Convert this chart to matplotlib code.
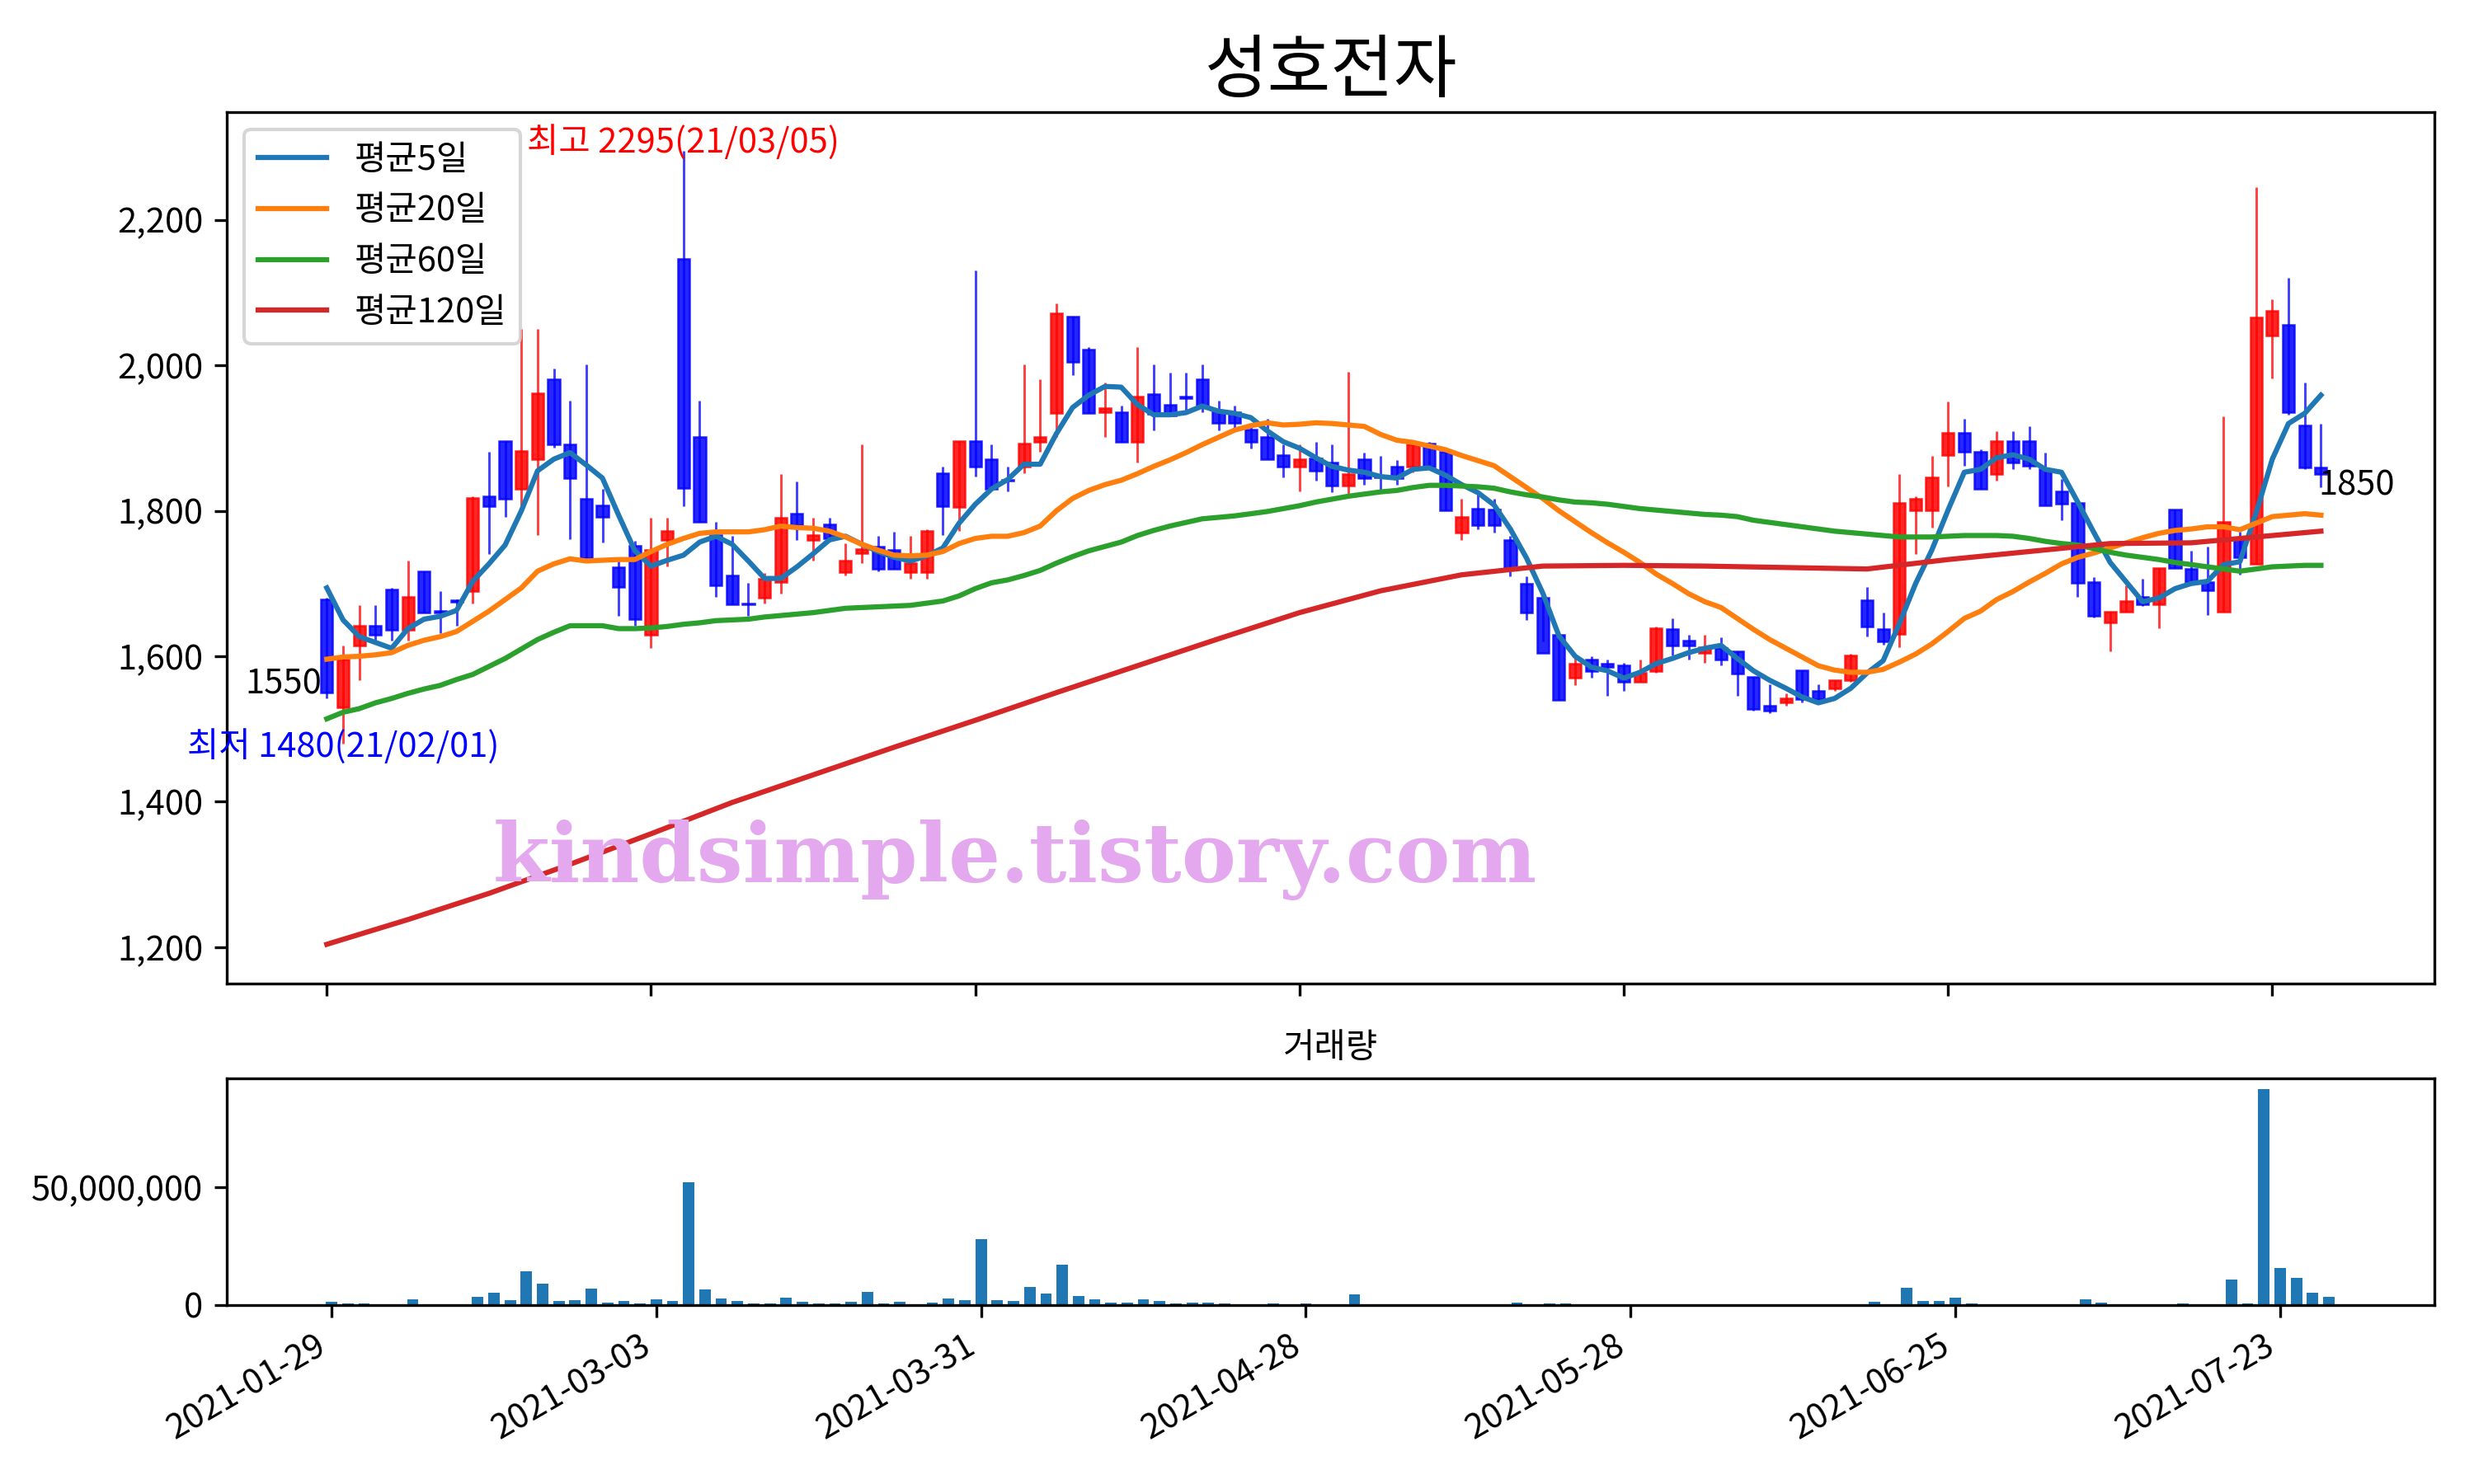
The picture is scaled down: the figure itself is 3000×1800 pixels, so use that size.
import numpy as np
import matplotlib
matplotlib.use("Agg")
import matplotlib.pyplot as plt
from matplotlib.ticker import FuncFormatter

# 일봉 데이터 (2021-01-29 ~ 124 거래일)
open_ = [1678, 1530, 1615, 1642, 1692, 1636, 1717, 1662, 1677, 1690,
         1820, 1896, 1830, 1871, 1981, 1891, 1817, 1807, 1722, 1752,
         1630, 1760, 2146, 1902, 1767, 1711, 1673, 1681, 1702, 1796,
         1760, 1781, 1716, 1742, 1751, 1746, 1716, 1716, 1852, 1805,
         1896, 1871, 1843, 1861, 1895, 1934, 2067, 2022, 1935, 1936,
         1895, 1961, 1946, 1957, 1981, 1937, 1936, 1912, 1902, 1877,
         1861, 1872, 1866, 1835, 1871, 1848, 1861, 1861, 1893, 1881,
         1770, 1803, 1802, 1760, 1700, 1680, 1630, 1570, 1595, 1590,
         1588, 1565, 1580, 1637, 1622, 1605, 1611, 1607, 1572, 1532,
         1536, 1581, 1552, 1556, 1567, 1677, 1637, 1631, 1801, 1801,
         1877, 1907, 1881, 1851, 1896, 1896, 1857, 1827, 1811, 1702,
         1646, 1661, 1682, 1671, 1802, 1720, 1702, 1661, 1761, 1727,
         2041, 2056, 1917, 1860]
high = [1680, 1615, 1670, 1670, 1694, 1731, 1717, 1690, 1678, 1820,
        1881, 1896, 2050, 2050, 1996, 1951, 2001, 1830, 1731, 1759,
        1791, 1790, 2295, 1951, 1785, 1766, 1701, 1715, 1851, 1840,
        1790, 1790, 1755, 1891, 1766, 1771, 1766, 1775, 1861, 1896,
        2130, 1891, 1861, 2001, 1981, 2085, 2067, 2025, 1976, 1945,
        2025, 2001, 1990, 1990, 2001, 1951, 1945, 1920, 1926, 1891,
        1891, 1895, 1891, 1991, 1880, 1876, 1870, 1891, 1895, 1881,
        1816, 1823, 1816, 1765, 1710, 1690, 1632, 1600, 1600, 1595,
        1591, 1595, 1641, 1652, 1630, 1630, 1626, 1607, 1572, 1561,
        1549, 1581, 1561, 1567, 1603, 1695, 1660, 1851, 1820, 1876,
        1950, 1926, 1884, 1910, 1910, 1916, 1880, 1844, 1811, 1709,
        1661, 1698, 1706, 1721, 1802, 1745, 1751, 1930, 1771, 2245,
        2091, 2120, 1976, 1920]
low = [1542, 1480, 1567, 1620, 1621, 1621, 1660, 1632, 1642, 1672,
       1741, 1792, 1804, 1767, 1887, 1761, 1735, 1757, 1656, 1642,
       1611, 1723, 1806, 1785, 1682, 1671, 1656, 1672, 1686, 1760,
       1731, 1758, 1711, 1728, 1717, 1720, 1707, 1707, 1767, 1772,
       1847, 1830, 1827, 1852, 1881, 1902, 1986, 1934, 1902, 1895,
       1866, 1911, 1931, 1937, 1936, 1911, 1914, 1886, 1871, 1846,
       1827, 1842, 1826, 1821, 1836, 1826, 1836, 1853, 1861, 1801,
       1760, 1775, 1770, 1710, 1650, 1620, 1540, 1560, 1570, 1546,
       1552, 1565, 1577, 1601, 1596, 1591, 1587, 1546, 1525, 1522,
       1532, 1537, 1535, 1552, 1565, 1627, 1616, 1612, 1741, 1777,
       1833, 1862, 1830, 1842, 1857, 1857, 1808, 1787, 1682, 1653,
       1607, 1661, 1669, 1639, 1721, 1701, 1657, 1661, 1712, 1727,
       1982, 1932, 1857, 1832]
close = [1550, 1595, 1642, 1630, 1636, 1682, 1660, 1660, 1675, 1818,
         1806, 1816, 1882, 1962, 1891, 1845, 1735, 1792, 1695, 1651,
         1746, 1772, 1831, 1785, 1697, 1671, 1671, 1707, 1791, 1780,
         1767, 1762, 1732, 1747, 1720, 1720, 1728, 1772, 1806, 1896,
         1861, 1830, 1841, 1892, 1902, 2072, 2005, 1934, 1941, 1895,
         1957, 1933, 1931, 1955, 1944, 1921, 1921, 1895, 1871, 1861,
         1871, 1855, 1835, 1851, 1845, 1846, 1845, 1891, 1861, 1801,
         1792, 1780, 1780, 1720, 1660, 1605, 1540, 1590, 1580, 1585,
         1565, 1577, 1638, 1615, 1615, 1612, 1595, 1576, 1527, 1525,
         1542, 1541, 1541, 1567, 1601, 1641, 1620, 1811, 1817, 1846,
         1907, 1881, 1830, 1896, 1866, 1862, 1808, 1810, 1701, 1655,
         1661, 1676, 1671, 1721, 1721, 1702, 1691, 1785, 1736, 2066,
         2075, 1935, 1860, 1850]
# 거래량 (백만주)
volume = [1.4, 0.7, 0.7, 0.35, 0.35, 2.5, 0.35, 0.35, 0.35, 3.5,
          5.3, 2.1, 14.5, 9.2, 1.8, 2.1, 7.1, 1.1, 1.8, 0.7,
          2.5, 1.8, 52.1, 6.7, 2.8, 1.8, 0.7, 0.7, 3.2, 1.4,
          0.7, 0.7, 1.4, 5.7, 0.7, 1.4, 0.35, 1.1, 2.8, 2.1,
          28.0, 2.1, 1.8, 7.8, 5.0, 17.0, 3.9, 2.5, 1.1, 1.1,
          2.5, 1.8, 0.7, 1.1, 1.1, 0.7, 0.35, 0.35, 0.7, 0.35,
          0.7, 0.1, 0.1, 4.6, 0.1, 0.1, 0.1, 0.1, 0.1, 0.35,
          0.1, 0.1, 0.1, 1.1, 0.35, 0.7, 0.7, 0.1, 0.1, 0.1,
          0.1, 0.1, 0.35, 0.1, 0.1, 0.1, 0.1, 0.35, 0.35, 0.1,
          0.1, 0.1, 0.1, 0.1, 0.35, 1.4, 0.1, 7.4, 1.8, 1.8,
          3.2, 0.7, 0.35, 0.35, 0.35, 0.35, 0.35, 0.1, 2.5, 1.1,
          0.35, 0.1, 0.1, 0.35, 0.7, 0.1, 0.1, 11.0, 0.7, 92.0,
          15.6, 11.7, 5.3, 3.5]

# 이동평균
ma5 = [1694, 1650, 1627, 1619, 1611, 1638, 1651, 1655, 1663, 1703,
       1727, 1753, 1800, 1855, 1871, 1880, 1863, 1845, 1794, 1745,
       1724, 1732, 1739, 1757, 1765, 1754, 1731, 1707, 1707, 1723,
       1741, 1760, 1765, 1754, 1744, 1736, 1731, 1738, 1749, 1783,
       1809, 1830, 1843, 1864, 1864, 1906, 1942, 1959, 1971, 1970,
       1946, 1932, 1932, 1935, 1944, 1937, 1934, 1928, 1910, 1895,
       1886, 1873, 1861, 1856, 1853, 1847, 1845, 1857, 1859, 1849,
       1836, 1825, 1808, 1775, 1735, 1687, 1628, 1600, 1585, 1580,
       1570, 1578, 1590, 1597, 1605, 1611, 1615, 1597, 1580, 1567,
       1556, 1544, 1536, 1542, 1556, 1577, 1594, 1645, 1700, 1746,
       1801, 1853, 1857, 1873, 1877, 1871, 1857, 1853, 1812, 1770,
       1729, 1702, 1675, 1680, 1693, 1700, 1703, 1726, 1730, 1797,
       1871, 1920, 1934, 1959]
ma20 = [1596, 1599, 1600, 1602, 1605, 1615, 1622, 1627, 1634, 1648,
        1662, 1678, 1694, 1717, 1727, 1734, 1731, 1732, 1733, 1733,
        1744, 1754, 1762, 1769, 1771, 1771, 1771, 1774, 1779, 1777,
        1776, 1772, 1764, 1754, 1746, 1739, 1738, 1739, 1744, 1755,
        1762, 1765, 1765, 1770, 1779, 1800, 1817, 1828, 1836, 1842,
        1851, 1861, 1870, 1880, 1891, 1901, 1911, 1917, 1921, 1918,
        1919, 1921, 1920, 1918, 1916, 1905, 1897, 1894, 1889, 1884,
        1876, 1869, 1862, 1847, 1832, 1817, 1800, 1785, 1770, 1756,
        1743, 1729, 1713, 1700, 1686, 1675, 1667, 1652, 1637, 1623,
        1611, 1599, 1587, 1581, 1578, 1578, 1582, 1592, 1603, 1617,
        1634, 1652, 1662, 1678, 1689, 1702, 1714, 1727, 1736, 1742,
        1749, 1756, 1763, 1769, 1773, 1775, 1778, 1778, 1774, 1783,
        1792, 1794, 1796, 1794]
ma60 = [1514, 1523, 1528, 1536, 1542, 1549, 1555, 1560, 1568, 1575,
        1586, 1597, 1610, 1623, 1633, 1642, 1642, 1642, 1638, 1638,
        1639, 1641, 1644, 1646, 1649, 1650, 1651, 1654, 1656, 1658,
        1660, 1663, 1666, 1667, 1668, 1669, 1670, 1673, 1676, 1683,
        1693, 1701, 1705, 1711, 1718, 1728, 1737, 1745, 1751, 1757,
        1766, 1773, 1779, 1784, 1789, 1791, 1793, 1796, 1799, 1803,
        1807, 1812, 1816, 1820, 1823, 1826, 1828, 1832, 1835, 1835,
        1834, 1833, 1831, 1826, 1822, 1819, 1815, 1812, 1811, 1809,
        1806, 1803, 1801, 1799, 1797, 1795, 1794, 1792, 1787, 1784,
        1781, 1778, 1775, 1772, 1770, 1768, 1766, 1764, 1764, 1764,
        1765, 1766, 1766, 1766, 1765, 1762, 1758, 1755, 1753, 1748,
        1743, 1739, 1736, 1733, 1729, 1726, 1723, 1720, 1717, 1720,
        1723, 1724, 1725, 1725]
ma120_idx = [0, 5, 10, 15, 20, 25, 30, 35, 40, 45, 50, 55, 60, 65, 70,
             75, 80, 85, 90, 95, 100, 105, 110, 115, 120, 123]
ma120 = [1204, 1238, 1274, 1314, 1356, 1399, 1437, 1475, 1512, 1550,
         1587, 1624, 1660, 1690, 1712, 1724, 1725, 1724, 1722, 1720,
         1733, 1744, 1755, 1756, 1766, 1772]

tick_pos = [0, 20, 40, 60, 80, 100, 120]
tick_dates = ['2021-01-29', '2021-03-03', '2021-03-31', '2021-04-28',
              '2021-05-28', '2021-06-25', '2021-07-23']

plt.rcParams['font.family'] = ['Noto Sans CJK KR', 'DejaVu Sans']
plt.rcParams['axes.unicode_minus'] = False

fig = plt.figure(figsize=(10, 6), dpi=300)
ax = fig.add_axes([0.0918, 0.3372, 0.8922, 0.5872])
ax_v = fig.add_axes([0.0918, 0.1206, 0.8922, 0.1530])

o = np.array(open_)
h = np.array(high)
l = np.array(low)
c = np.array(close)
x = np.arange(len(c))
colors = np.where(c >= o, 'red', 'blue')

# 캔들
ax.vlines(x, l, h, colors=colors, linewidth=0.7, alpha=0.75)
ax.bar(x, c - o, bottom=o, width=0.72, color=colors, edgecolor=colors,
       linewidth=0.6, alpha=0.85)

# 이동평균선
ax.plot(x, ma5, color='C0', label='평균5일')
ax.plot(x, ma20, color='C1', label='평균20일')
ax.plot(x, ma60, color='C2', label='평균60일')
ax.plot(ma120_idx, ma120, color='C3', label='평균120일')

ax.text(22, 2307, '최고 2295(21/03/05)', color='red', ha='center', va='center', fontsize=10)
ax.text(1, 1476, '최저 1480(21/02/01)', color='blue', ha='center', va='center', fontsize=10)
ax.text(-0.3, 1562, '1550', ha='right', va='center', fontsize=10)
ax.text(122.85, 1835, '1850', ha='left', va='center', fontsize=10)

ax.set_title('성호전자', fontsize=20)
ax.legend(loc='upper left')
ax.set_xlim(-6.15, 130.0)
ax.set_ylim(1150, 2348)
ax.set_xticks(tick_pos)
ax.set_xticklabels([])
ax.yaxis.set_major_formatter(FuncFormatter(lambda v, p: f'{v:,.0f}'))

# 거래량
ax_v.bar(x, np.array(volume) * 1e6, width=0.7, color='C0')
ax_v.set_title('거래량', fontsize=10)
ax_v.set_xlim(-6.43, 129.5)
ax_v.set_ylim(0, 96.6e6)
ax_v.set_xticks(tick_pos)
ax_v.set_xticklabels(tick_dates, rotation=30, ha='right')
ax_v.yaxis.set_major_formatter(FuncFormatter(lambda v, p: f'{v:,.0f}'))

fig.text(0.1993, 0.4056, 'kindsimple.tistory.com', fontsize=23.8, fontweight='bold',
         family='DejaVu Serif', color='#e4a8ee', va='baseline', zorder=10)

fig.savefig('out.png', dpi=300)
